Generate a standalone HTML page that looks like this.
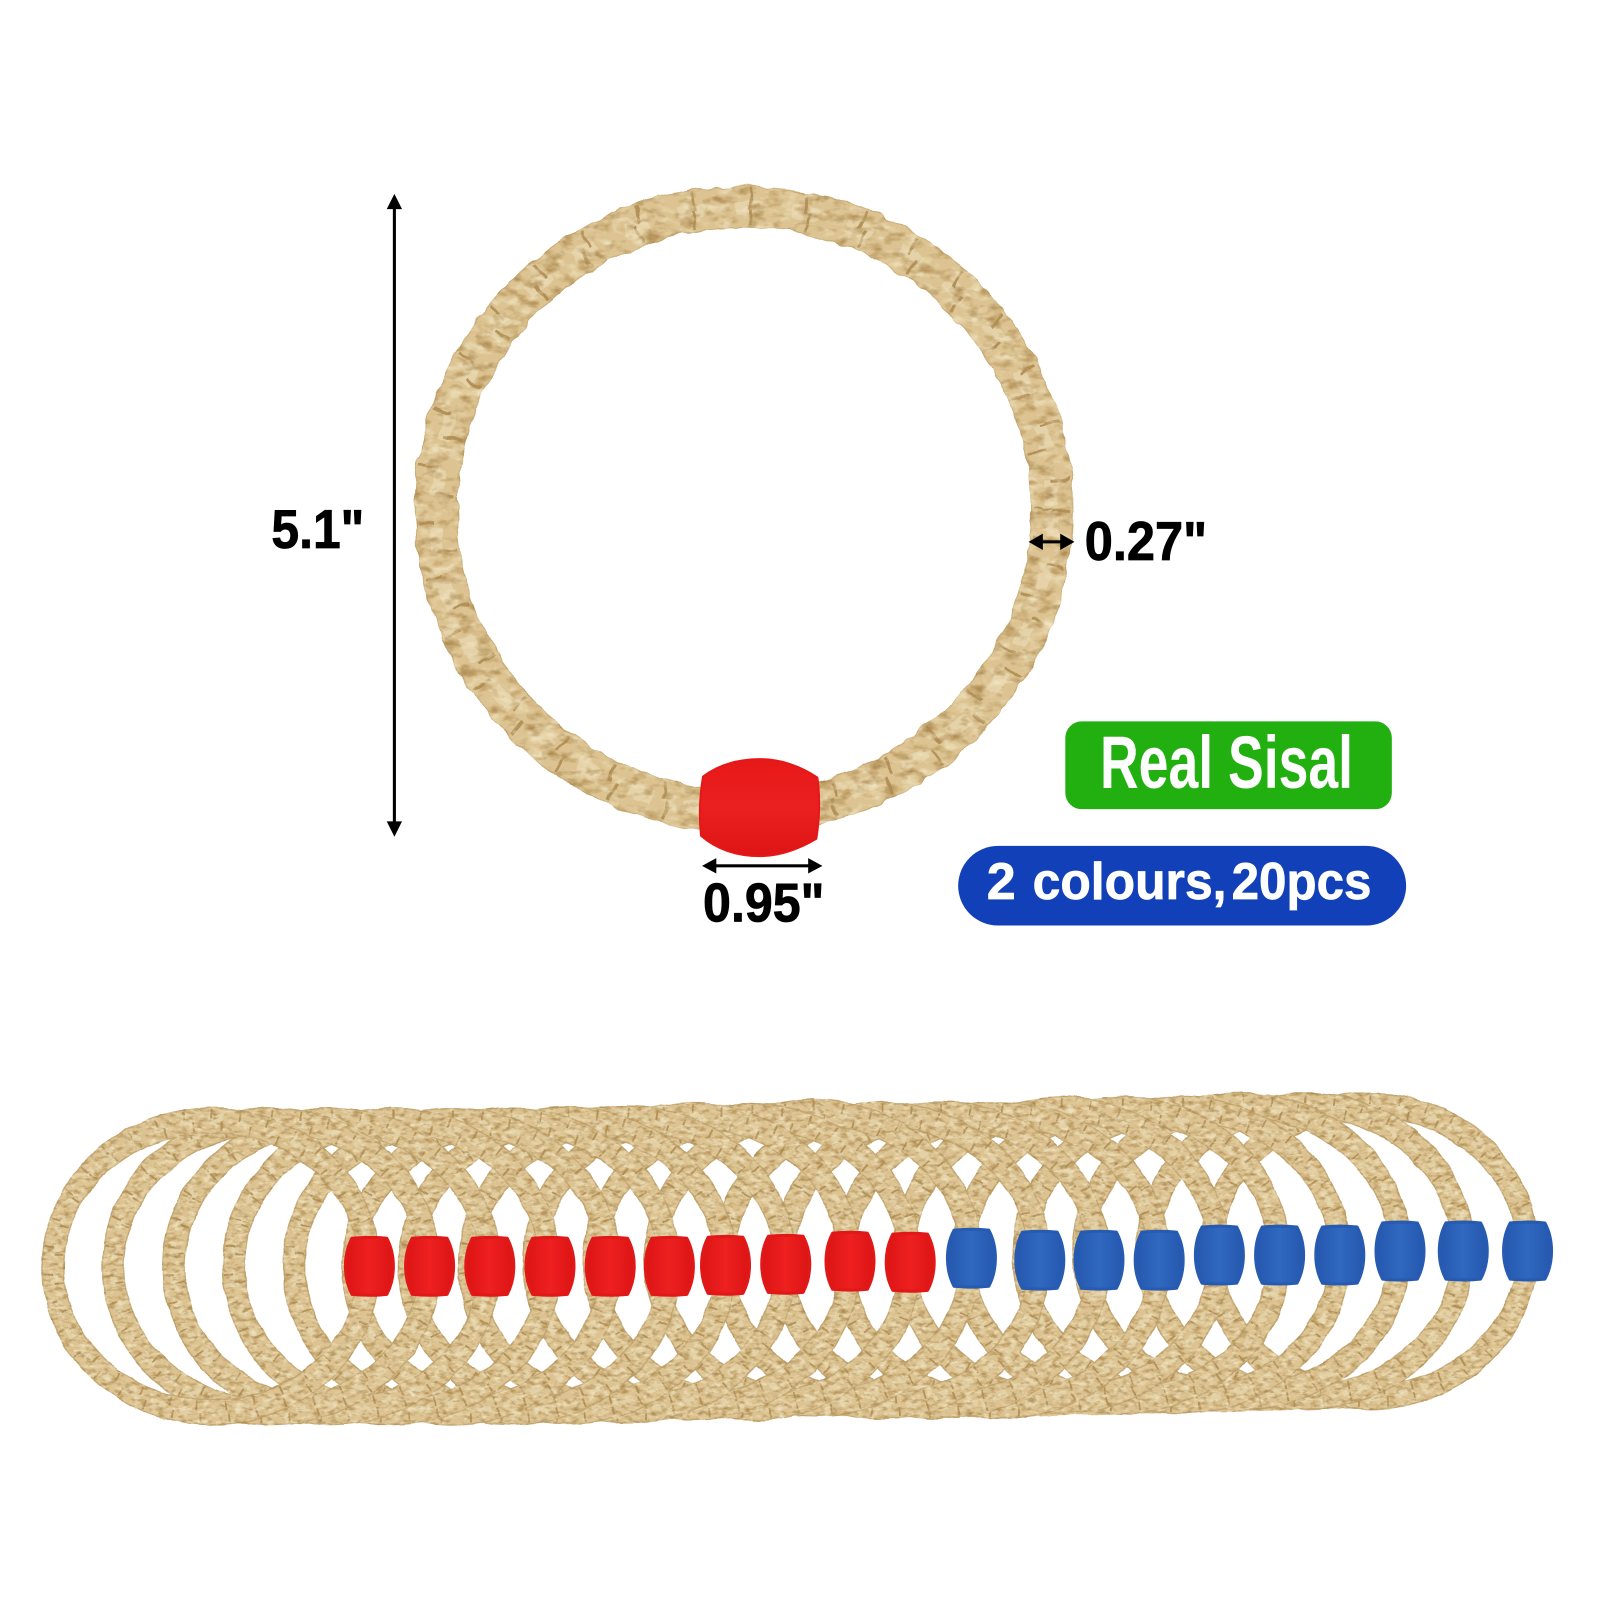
<!DOCTYPE html>
<html>
<head>
<meta charset="utf-8">
<style>
html,body{margin:0;padding:0;background:#fff;width:1600px;height:1600px;overflow:hidden}
svg{display:block}
text{font-family:"Liberation Sans",sans-serif;font-weight:bold}
</style>
</head>
<body>
<svg width="1600" height="1600" viewBox="0 0 1568 1568" xmlns="http://www.w3.org/2000/svg">
<defs>
<filter id="w" x="-3%" y="-8%" width="106%" height="116%" color-interpolation-filters="sRGB">
<feTurbulence type="fractalNoise" baseFrequency="0.045" numOctaves="2" seed="4" result="a"/>
<feDisplacementMap in="SourceGraphic" in2="a" scale="4" xChannelSelector="R" yChannelSelector="G" result="d"/>
<feTurbulence type="fractalNoise" baseFrequency="0.13 0.24" numOctaves="3" seed="7" result="n"/>
<feColorMatrix in="n" type="matrix" values="0 0 0 0 .68  0 0 0 0 .54  0 0 0 0 .31  2.4 0 0 0 -1.15" result="dk"/>
<feComposite in="dk" in2="d" operator="in" result="dk2"/>
<feColorMatrix in="n" type="matrix" values="0 0 0 0 .94  0 0 0 0 .89  0 0 0 0 .75  0 2.4 0 0 -1.15" result="lt"/>
<feComposite in="lt" in2="d" operator="in" result="lt2"/>
<feMerge><feMergeNode in="d"/><feMergeNode in="lt2"/><feMergeNode in="dk2"/></feMerge>
</filter>
<filter id="w2" x="-5%" y="-5%" width="110%" height="110%" color-interpolation-filters="sRGB">
<feTurbulence type="fractalNoise" baseFrequency="0.05" numOctaves="2" seed="9" result="a"/>
<feDisplacementMap in="SourceGraphic" in2="a" scale="9" xChannelSelector="R" yChannelSelector="G" result="d"/>
<feTurbulence type="fractalNoise" baseFrequency="0.06 0.11" numOctaves="3" seed="3" result="n"/>
<feColorMatrix in="n" type="matrix" values="0 0 0 0 .68  0 0 0 0 .54  0 0 0 0 .31  2.4 0 0 0 -1.15" result="dk"/>
<feComposite in="dk" in2="d" operator="in" result="dk2"/>
<feColorMatrix in="n" type="matrix" values="0 0 0 0 .94  0 0 0 0 .89  0 0 0 0 .75  0 2.4 0 0 -1.15" result="lt"/>
<feComposite in="lt" in2="d" operator="in" result="lt2"/>
<feMerge><feMergeNode in="d"/><feMergeNode in="lt2"/><feMergeNode in="dk2"/></feMerge>
</filter>
<linearGradient id="red" x1="0" x2="1" y1="0" y2="0">
<stop offset="0" stop-color="#dc1414"/><stop offset=".5" stop-color="#ee2020"/><stop offset="1" stop-color="#dc1414"/>
</linearGradient>
<linearGradient id="blue" x1="0" x2="1" y1="0" y2="0">
<stop offset="0" stop-color="#2558ae"/><stop offset=".5" stop-color="#3068c0"/><stop offset="1" stop-color="#2558ae"/>
</linearGradient>
<linearGradient id="big" x1="0" x2="0" y1="0" y2="1">
<stop offset="0" stop-color="#e81818"/><stop offset=".5" stop-color="#ea2020"/><stop offset="1" stop-color="#df1414"/>
</linearGradient>
<g id="r" fill="none">
<path d="M-165.500,0 A165.500,155 0 1 0 165.500,0 A165.500,155 0 1 0 -165.500,0 Z M-144.500,0 A144.500,131 0 1 1 144.500,0 A144.500,131 0 1 1 -144.500,0 Z" fill="#dcc391" fill-rule="evenodd" stroke="#c4a874" stroke-width="1.400"/>
<ellipse rx="155" ry="143" stroke="#e6d5ae" stroke-width="7" stroke-dasharray="14 14" opacity=".7"/>
<ellipse rx="160" ry="149" stroke="#b3925a" stroke-width="9" stroke-dasharray="1.800 26.200"/>
<ellipse rx="150" ry="137" stroke="#b3925a" stroke-width="9" stroke-dasharray="1.800 26.200" stroke-dashoffset="14"/>
</g>
<path id="bead" d="M-17,-27.500 C-6,-28.500 8,-28.500 17,-27.500 C21,-20 23.500,-10 23.500,0 C23.500,10 21,20 17,27.500 C8,28.500 -6,28.500 -17,27.500 C-21,20 -23.500,10 -23.500,0 C-23.500,-10 -21,-20 -17,-27.500 Z" stroke-width="3" stroke-linejoin="round"/>
</defs>

<rect width="1568" height="1568" fill="#fff"/>

<!-- main ring -->
<g fill="none" filter="url(#w2)">
<ellipse cx="729" cy="499" rx="302" ry="296" stroke="#c9ad78" stroke-width="42"/>
<ellipse cx="729" cy="499" rx="302" ry="296" stroke="#dcc391" stroke-width="40"/>
<ellipse cx="729" cy="499" rx="302" ry="296" stroke="#e8d8b2" stroke-width="13" stroke-dasharray="26 30" opacity=".7"/>
<ellipse cx="729" cy="499" rx="311" ry="305" stroke="#b3925a" stroke-width="18" stroke-dasharray="3 53"/>
<ellipse cx="729" cy="499" rx="293" ry="287" stroke="#b3925a" stroke-width="18" stroke-dasharray="3 53" stroke-dashoffset="28"/>
</g>

<!-- main bead -->
<path d="M689,761 C705,749 725,744 745,744 C765,744 785,751 801,762 Q805,790 800,822 C785,831 765,839 745,839 C722,839 702,832 687,819 Q684,790 689,761 Z" fill="url(#big)" stroke="#e41818" stroke-width="2" stroke-linejoin="round"/>

<!-- rings stack -->
<g filter="url(#w)">
<!-- dense top and bottom bands -->
<path d="M230,1090 L615,1087 L797,1081 L981,1083 L1158,1078 L1320,1074 L1230,1106 L981,1112 L797,1110 L615,1116 L330,1118 Z" fill="#dcc391"/>
<path d="M330,1366 L615,1364 L797,1358 L981,1360 L1230,1352 L1320,1380 L1158,1384 L981,1389 L797,1387 L615,1393 L230,1395 Z" fill="#dcc391"/>
<use href="#r" transform="translate(1342,1226)"/>
<use href="#r" transform="translate(1279,1226)"/>
<use href="#r" transform="translate(1217,1226)"/>
<use href="#r" transform="translate(1158,1230)"/>
<use href="#r" transform="translate(1099,1230)"/>
<use href="#r" transform="translate(1040,1230)"/>
<use href="#r" transform="translate(981,1235)"/>
<use href="#r" transform="translate(922,1235)"/>
<use href="#r" transform="translate(864,1235)"/>
<use href="#r" transform="translate(797,1233)"/>
<use href="#r" transform="translate(737,1237)"/>
<use href="#r" transform="translate(678,1236)"/>
<use href="#r" transform="translate(615,1239)"/>
<use href="#r" transform="translate(556,1240)"/>
<use href="#r" transform="translate(501,1241)"/>
<use href="#r" transform="translate(443,1241)"/>
<use href="#r" transform="translate(384,1241)"/>
<use href="#r" transform="translate(325,1241)"/>
<use href="#r" transform="translate(266,1241)"/>
<use href="#r" transform="translate(207,1241)"/>
</g>

<!-- beads -->
<g fill="url(#red)" stroke="#e01818">
<use href="#bead" transform="translate(362,1241)"/>
<use href="#bead" transform="translate(421,1241)"/>
<use href="#bead" transform="translate(480,1241)"/>
<use href="#bead" transform="translate(539,1241)"/>
<use href="#bead" transform="translate(598,1241)"/>
<use href="#bead" transform="translate(656,1241)"/>
<use href="#bead" transform="translate(711,1240)"/>
<use href="#bead" transform="translate(770,1239)"/>
<use href="#bead" transform="translate(833,1236)"/>
<use href="#bead" transform="translate(892,1237)"/>
</g>
<g fill="url(#blue)" stroke="#275bb2">
<use href="#bead" transform="translate(952,1233)"/>
<use href="#bead" transform="translate(1019,1235)"/>
<use href="#bead" transform="translate(1077,1235)"/>
<use href="#bead" transform="translate(1136,1235)"/>
<use href="#bead" transform="translate(1195,1230)"/>
<use href="#bead" transform="translate(1254,1230)"/>
<use href="#bead" transform="translate(1313,1230)"/>
<use href="#bead" transform="translate(1372,1226)"/>
<use href="#bead" transform="translate(1434,1226)"/>
<use href="#bead" transform="translate(1497,1226)"/>
</g>

<!-- dimension arrows -->
<g fill="#000" stroke="none">
<rect x="385" y="200" width="3" height="610"/>
<path d="M386.500,190 L394,205 L379,205 Z"/>
<path d="M386.500,820 L394,805 L379,805 Z"/>
<rect x="1016" y="529.500" width="28" height="3"/>
<path d="M1008,531 L1022,523 L1022,539 Z"/>
<path d="M1053,531 L1039,523 L1039,539 Z"/>
<rect x="698" y="847" width="98" height="3"/>
<path d="M688,848.500 L702,841 L702,856 Z"/>
<path d="M806,848.500 L792,841 L792,856 Z"/>
</g>

<g fill="#000" stroke="#000" stroke-width=".8">
<text x="266" y="537" font-size="54" textLength="91" lengthAdjust="spacingAndGlyphs">5.1"</text>
<text x="1063" y="549" font-size="54" textLength="120" lengthAdjust="spacingAndGlyphs">0.27"</text>
<text x="689" y="903" font-size="54" textLength="119" lengthAdjust="spacingAndGlyphs">0.95"</text>
</g>

<rect x="1044" y="707" width="320" height="86" rx="16" ry="16" fill="#22b010"/>
<text x="1078" y="772" font-size="73" textLength="248" lengthAdjust="spacingAndGlyphs" fill="#fff">Real Sisal</text>

<rect x="939" y="829" width="439" height="78" rx="39" ry="39" fill="#1240b8"/>
<g fill="#fff" stroke="#fff" stroke-width=".7" font-size="51">
<text x="967" y="881">2</text>
<text x="1012" y="881" textLength="190" lengthAdjust="spacingAndGlyphs">colours,</text>
<text x="1207" y="881" textLength="137" lengthAdjust="spacingAndGlyphs">20pcs</text>
</g>
</svg>
</body>
</html>
